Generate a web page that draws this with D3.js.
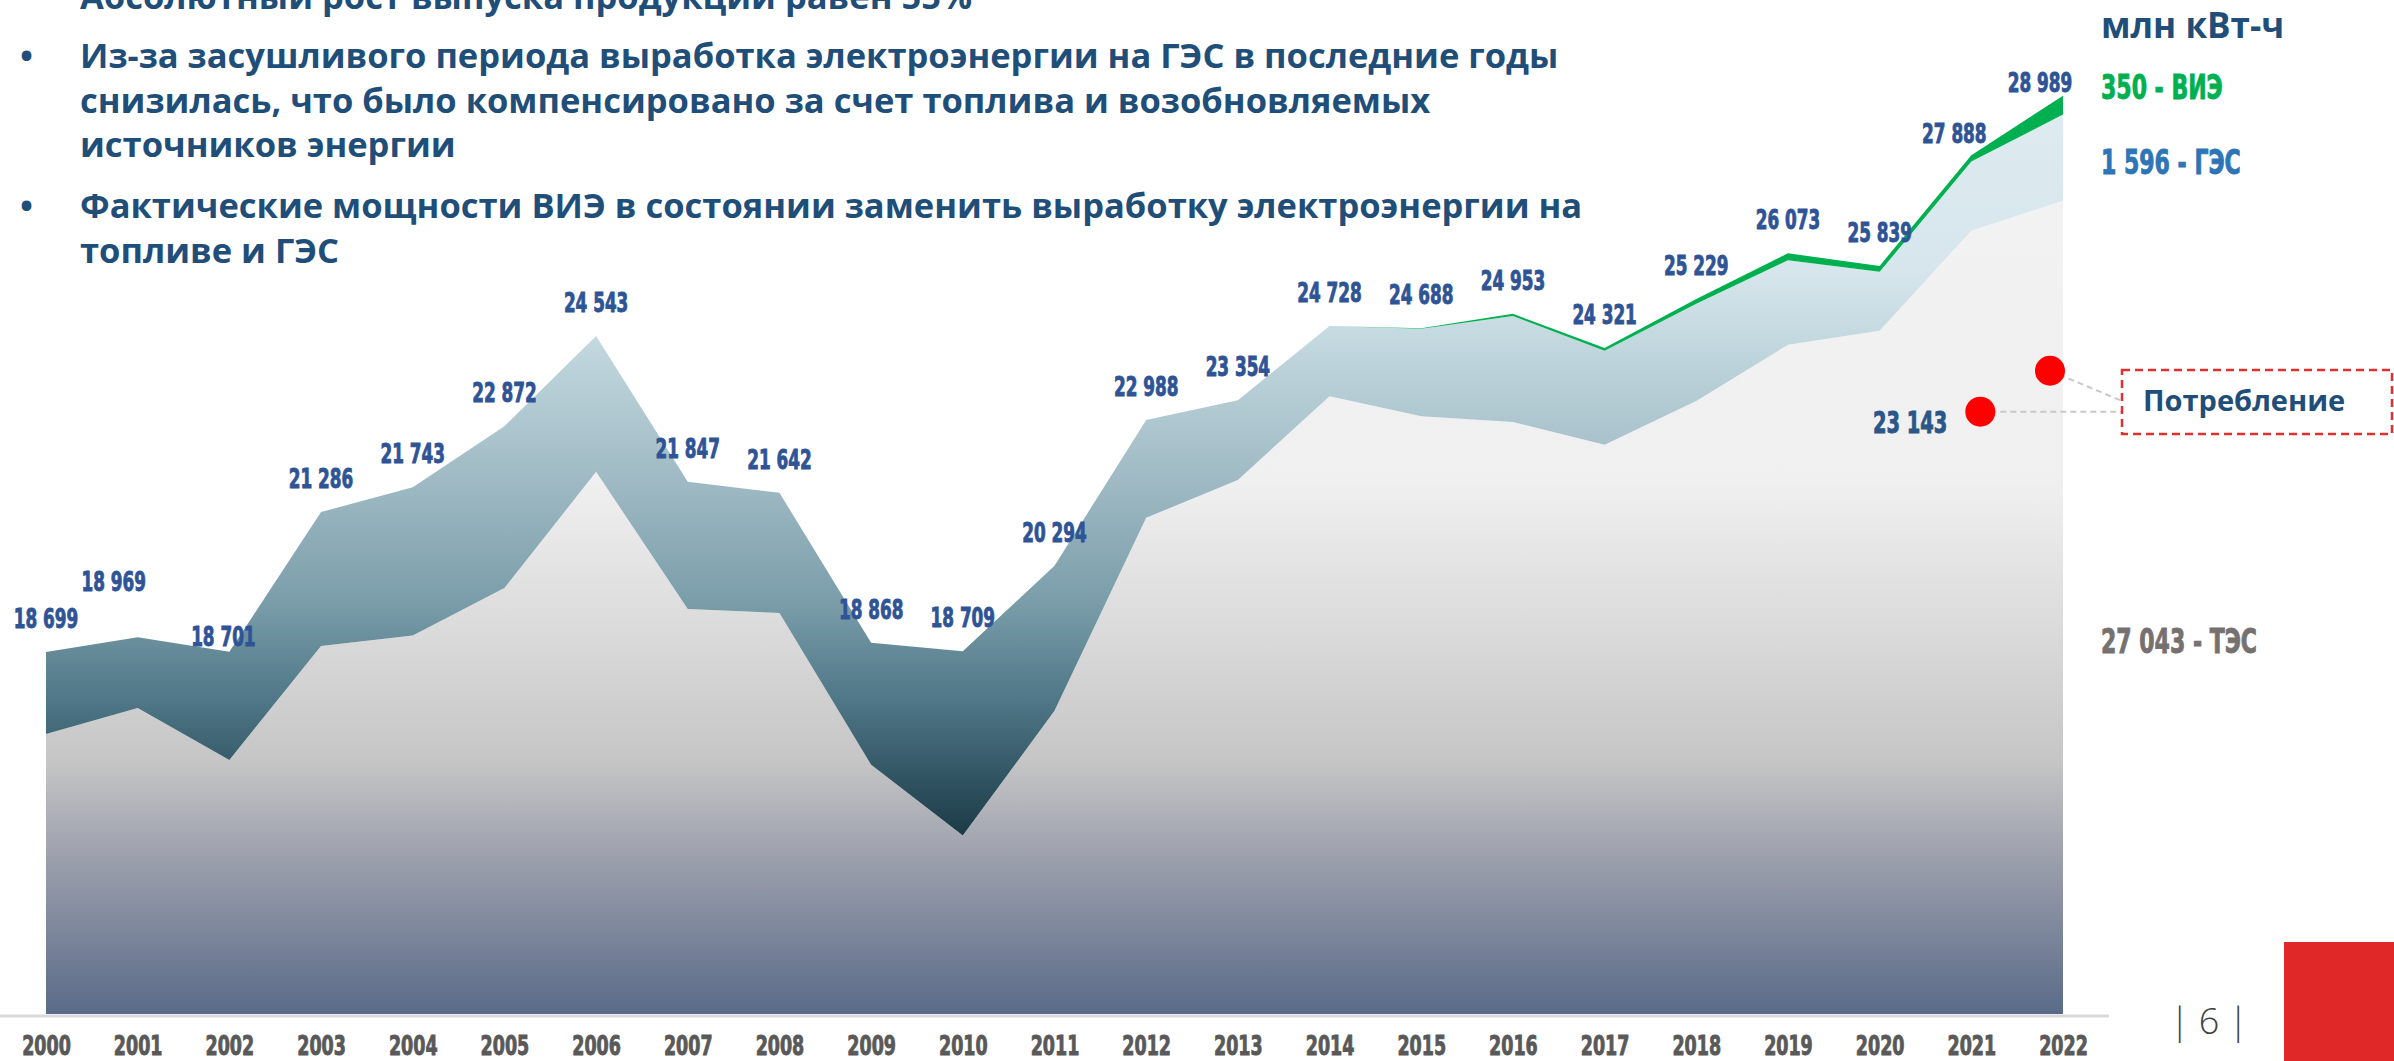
<!DOCTYPE html>
<html>
<head>
<meta charset="utf-8">
<script src="https://cdn.jsdelivr.net/npm/d3@7"></script>
<style>
  body { margin: 0; background: #ffffff; }
  svg { display: block; }
</style>
</head>
<body>
<div id="chart"></div>
<script>

// years on the x axis
var years = ["2000","2001","2002","2003","2004","2005","2006","2007","2008","2009","2010","2011",
             "2012","2013","2014","2015","2016","2017","2018","2019","2020","2021","2022"];

// total output, mln kWh (data labels)
var totals = [18699, 18969, 18701, 21286, 21743, 22872, 24543, 21847, 21642, 18868, 18709, 20294,
              22988, 23354, 24728, 24688, 24953, 24321, 25229, 26073, 25839, 27888, 28989];

// thermal (ТЭС)
var tes = [17180, 17660, 16700, 18810, 19000, 19880, 22030, 19490, 19420, 16610, 15300, 17610,
           21180, 21880, 23430, 23060, 22950, 22530, 23340, 24380, 24640, 26490, 27043];

// hydro (ГЭС)
var ges = [1519, 1309, 2001, 2476, 2743, 2992, 2513, 2357, 2222, 2258, 3409, 2684,
           1808, 1474, 1298, 1618, 1963, 1741, 1799, 1563, 1089, 1283, 1596];

// renewables (ВИЭ)
var vie = [0, 0, 0, 0, 0, 0, 0, 0, 0, 0, 0, 0,
           0, 0, 0, 10, 40, 50, 90, 130, 110, 115, 350];

// consumption points
var consYears = ["2021", "2022"];
var consValues = [23143, 23900];

// text
var topLine = "Абсолютный рост выпуска продукции равен 55%";
var bullets = [
  ["Из-за засушливого периода выработка электроэнергии на ГЭС в последние годы",
   "снизилась, что было компенсировано за счет топлива и возобновляемых",
   "источников энергии"],
  ["Фактические мощности ВИЭ в состоянии заменить выработку электроэнергии на",
   "топливе и ГЭС"]
];

// label nudges where the labels were moved by hand
var labelNudge = { "2001": [-24, -46], "2002": [-6, -6], "2021": [-17, -12], "2022": [-23, -4] };

var W = 2394, H = 1061;
// no narrow font installed, so the condensed numbers are squeezed by hand
var numFont = "'DejaVu Sans Condensed', 'DejaVu Sans', sans-serif";
var squeeze = 0.72;
var txtFont = "'Open Sans', 'Noto Sans', sans-serif";

var fmt = d3.formatLocale({decimal: ",", thousands: " ", grouping: [3], currency: ["", ""]}).format(",");

function narrow(sel, size, color) {
  sel.style("font-family", numFont)
    .style("font-weight", "bold")
    .style("font-size", size + "px")
    .style("fill", color)
    .style("stroke", color)
    .style("stroke-width", 0.9);
}

function place(x, y) {
  return "translate(" + x + "," + y + ") scale(" + squeeze + ",1)";
}

var svg = d3.select("#chart")
  .append("svg")
    .attr("width", W)
    .attr("height", H);

var defs = svg.append("defs");

function addGrad(id, y1, y2, stops) {
  var g = defs.append("linearGradient")
    .attr("id", id)
    .attr("gradientUnits", "userSpaceOnUse")
    .attr("x1", 0).attr("x2", 0)
    .attr("y1", y1).attr("y2", y2);
  stops.forEach(function(s) {
    g.append("stop").attr("offset", s[0]).attr("stop-color", s[1]);
  });
}

addGrad("gradTes", 200, 1014, [[0, "#f2f2f2"], [0.344, "#f0f0f0"], [0.516, "#dcdcdc"],
                               [0.688, "#c6c6c6"], [0.811, "#9b9fac"], [1, "#5a6a88"]]);
addGrad("gradGes", 90, 850, [[0, "#dfecf1"], [0.237, "#d6e6ec"], [0.329, "#c3d8df"],
                             [0.513, "#9fbac4"], [0.671, "#7b9eaa"], [0.803, "#4f7787"], [1, "#163440"]]);

// scales
var x = d3.scalePoint()
  .domain(years)
  .range([46, 2063]);

var y = d3.scaleLinear()
  .domain([12000, 30000])
  .range([1014, 41])
  .clamp(true);

// stack the three sources
var rows = years.map(function(yr, i) {
  return { year: yr, tes: tes[i], ges: ges[i], vie: vie[i] };
});
var series = d3.stack().keys(["tes", "ges", "vie"])(rows);
var fills = { tes: "url(#gradTes)", ges: "url(#gradGes)", vie: "#00b050" };

var area = d3.area()
  .x(function(d) { return x(d.data.year); })
  .y0(function(d) { return y(d[0]); })
  .y1(function(d) { return y(d[1]); });

svg.append("g")
  .selectAll("path")
  .data(series)
  .enter()
  .append("path")
    .attr("d", area)
    .attr("fill", function(d) { return fills[d.key]; });

// axis line + year labels
svg.append("line")
  .attr("x1", 0).attr("x2", 2109)
  .attr("y1", 1016).attr("y2", 1016)
  .attr("stroke", "#d9d9d9")
  .attr("stroke-width", 3);

var xAxis = svg.append("g")
  .attr("transform", "translate(0,1016)")
  .call(d3.axisBottom(x).tickSize(0).tickPadding(0));
xAxis.select(".domain").remove();
xAxis.selectAll("text")
  .attr("y", 0)
  .attr("dy", 0)
  .attr("transform", place(0, 39))
  .call(narrow, 27, "#595959");

// total labels
svg.append("g")
  .selectAll("text")
  .data(years)
  .enter()
  .append("text")
    .attr("transform", function(d, i) {
      var n = labelNudge[d] || [0, -24];
      return place(x(d) + n[0], y(totals[i]) + n[1]);
    })
    .attr("text-anchor", "middle")
    .call(narrow, 26, "#2f5496")
    .text(function(d, i) { return fmt(totals[i]); });

// right-hand legend
var last = years.length - 1;
svg.append("text")
  .attr("x", 2101).attr("y", 38)
  .style("font-family", txtFont).style("font-weight", "bold").style("font-size", "35px")
  .style("fill", "#1f4e79")
  .text("млн кВт-ч");

svg.append("text")
  .attr("transform", place(2101, 99))
  .call(narrow, 34, "#00b050")
  .text(fmt(vie[last]) + " - ВИЭ");

svg.append("text")
  .attr("transform", place(2101, 174))
  .call(narrow, 34, "#2e75b6")
  .text(fmt(ges[last]) + " - ГЭС");

svg.append("text")
  .attr("transform", place(2101, 653))
  .call(narrow, 34, "#767171")
  .text(fmt(tes[last]) + " - ТЭС");

// consumption callout
var consNudge = [9, -13];
var cons = svg.append("g");
var boxX = 2122, boxY = 370, boxH = 64;

cons.selectAll("line")
  .data(consYears)
  .enter()
  .append("line")
    .attr("x1", function(d, i) { return x(d) + consNudge[i]; })
    .attr("y1", function(d, i) { return y(consValues[i]); })
    .attr("x2", boxX)
    .attr("y2", function(d, i) { return i == 0 ? y(consValues[i]) : boxY + 31; })
    .attr("stroke", "#c8c8c8")
    .attr("stroke-width", 2)
    .attr("stroke-dasharray", "6,4");

cons.selectAll("circle")
  .data(consYears)
  .enter()
  .append("circle")
    .attr("cx", function(d, i) { return x(d) + consNudge[i]; })
    .attr("cy", function(d, i) { return y(consValues[i]); })
    .attr("r", 15)
    .attr("fill", "#ff0000");

cons.append("text")
  .attr("transform", place(x(consYears[0]) + consNudge[0] - 33, y(consValues[0]) + 21))
  .attr("text-anchor", "end")
  .call(narrow, 30, "#2b5788")
  .text(fmt(consValues[0]));

cons.append("rect")
  .attr("x", boxX).attr("y", boxY)
  .attr("width", W - boxX - 2).attr("height", boxH)
  .attr("fill", "none")
  .attr("stroke", "#e03030")
  .attr("stroke-width", 2.5)
  .attr("stroke-dasharray", "8,5");

cons.append("text")
  .attr("x", 2143).attr("y", 411)
  .style("font-family", txtFont).style("font-weight", "bold").style("font-size", "29px")
  .style("fill", "#1f4e79")
  .text("Потребление");

// heading text, top left
var head = svg.append("g")
  .style("font-family", txtFont)
  .style("font-weight", "bold")
  .style("font-size", "34.5px")
  .style("fill", "#1f4e79");

head.append("text").attr("x", 80).attr("y", 9).text(topLine);

var lineY = [[68, 113, 157], [218, 263]];
bullets.forEach(function(lines, b) {
  head.append("text").attr("x", 20).attr("y", lineY[b][0]).text("•");
  lines.forEach(function(t, k) {
    head.append("text").attr("x", 80).attr("y", lineY[b][k]).text(t);
  });
});

// page number and red corner
svg.append("text")
  .attr("x", 2209).attr("y", 1034)
  .attr("text-anchor", "middle")
  .style("font-family", txtFont).style("font-weight", 300).style("font-size", "36px")
  .style("fill", "#404040")
  .text("| 6 |");

svg.append("rect")
  .attr("x", 2284).attr("y", 942)
  .attr("width", W - 2284).attr("height", H - 942)
  .attr("fill", "#e02828");

</script>
</body>
</html>
